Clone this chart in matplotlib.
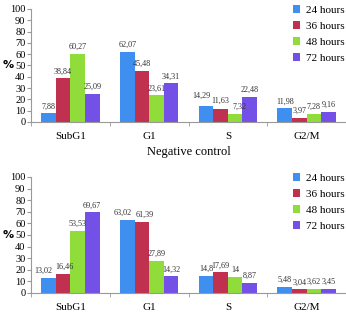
import matplotlib
matplotlib.use('Agg')
import matplotlib.pyplot as plt
import numpy as np

W, H, DPI = 346, 316, 100

categories = ['SubG1', 'G1', 'S', 'G2/M']
series = ['24 hours', '36 hours', '48 hours', '72 hours']
colors = ['#3f8ff0', '#c0304f', '#8fdc3a', '#7451e6']

# top panel: negative control
top_vals = [
    [7.88, 62.07, 14.29, 11.98],
    [38.84, 45.48, 11.63, 3.97],
    [60.27, 23.61, 7.32, 7.28],
    [25.09, 34.31, 22.48, 9.16],
]
# bottom panel
bot_vals = [
    [13.02, 63.02, 14.8, 5.48],
    [16.46, 61.39, 17.69, 3.04],
    [53.53, 27.89, 14, 3.62],
    [69.67, 14.32, 8.87, 3.45],
]

# small label nudges (points), keyed (category, series)
top_nudge = {(2, 0): (-3, 2), (2, 1): (0, 1), (2, 2): (3, 0)}
bot_nudge = {(0, 0): (-4, 0), (0, 1): (1, 0), (1, 0): (-3, 0), (1, 1): (2, 0)}

plt.rcParams['font.family'] = ['Liberation Serif', 'DejaVu Serif']

fig = plt.figure(figsize=(W/DPI, H/DPI), dpi=DPI)


def fmt(v):
    s = ('%.2f' % v).rstrip('0').rstrip('.')
    return s.replace('.', ',')


def panel(rect, vals, nudge, xlabel=None):
    ax = fig.add_axes(rect)
    x = np.arange(len(categories))
    bw = 0.185
    for i, (name, col) in enumerate(zip(series, colors)):
        pos = x + (i - 1.5) * bw
        ax.bar(pos, vals[i], width=bw, color=col, label=name, zorder=2)
        for j, (p, v) in enumerate(zip(pos, vals[i])):
            dx, dy = nudge.get((j, i), (0, 0))
            ax.annotate(fmt(v), (p, v), xytext=(dx, 2 + dy),
                        textcoords='offset points', ha='center', va='bottom',
                        fontsize=5.9, color='#333333', zorder=3)
    ax.set_xlim(-0.5, len(categories) - 0.5)
    ax.set_ylim(0, 100)
    ax.set_yticks(range(0, 101, 10))
    ax.set_xticks(x)
    ax.set_xticklabels(categories, fontsize=8)
    ax.set_xticks(np.arange(-0.5, len(categories)), minor=True)
    ax.tick_params(axis='x', which='major', length=0, pad=7)
    ax.tick_params(axis='x', which='minor', length=3, color='#999999')
    ax.tick_params(axis='y', labelsize=7.5, length=3, color='#999999', pad=1)
    for s in ['top', 'right']:
        ax.spines[s].set_visible(False)
    for s in ['left', 'bottom']:
        ax.spines[s].set_color('#999999')
        ax.spines[s].set_linewidth(0.8)
    # "%" label sits left of the tick labels, near the 50 mark
    y50 = ax.transData.transform((0, 50))[1] / (H)
    fig.text(8/W, y50, '%', fontsize=8, fontweight='bold', ha='center',
             va='center', family='DejaVu Sans')
    if xlabel:
        ax.set_xlabel(xlabel, fontsize=9, labelpad=4)
    ax.legend(loc='upper right', bbox_to_anchor=(1.02, 1.1), frameon=False,
              fontsize=8, handlelength=0.7, handleheight=0.7,
              handletextpad=0.5, labelspacing=0.55, borderpad=0.2)
    return ax


panel([31/W, (H-122)/H, 315/W, 113/H], top_vals, top_nudge, 'Negative control')
panel([31/W, (H-293)/H, 315/W, 116/H], bot_vals, bot_nudge)

plt.savefig('out.png', dpi=DPI, facecolor='white')
